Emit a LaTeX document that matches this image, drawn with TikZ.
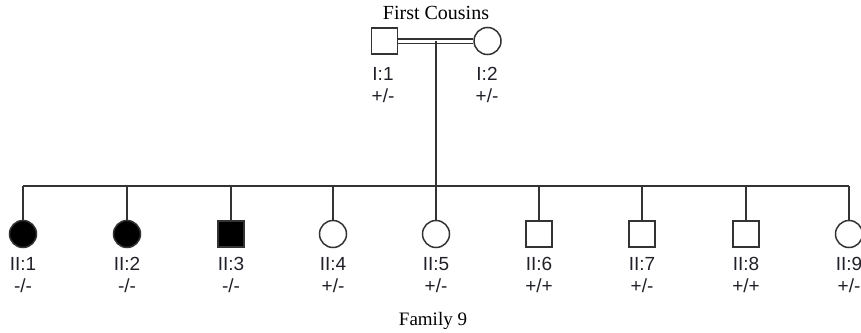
\documentclass[tikz,border=0pt]{standalone}
\usepackage{fontspec}
\setmainfont{Liberation Serif}
\newfontfamily\pedfont{Liberation Sans}
\definecolor{linegray}{HTML}{333333}
\definecolor{idtext}{HTML}{202028}
\begin{document}
\begin{tikzpicture}[x=1pt,y=-1pt]
\tikzset{
  every node/.append style={inner sep=0pt},
  male/.style={rectangle, draw=linegray, line width=1.5pt, minimum size=26pt},
  female/.style={circle, draw=linegray, line width=1.5pt, minimum size=27pt},
  affected/.style={fill=black},
  normal/.style={fill=white},
  idlabel/.style={font=\pedfont\fontsize{19}{21}\selectfont, text=idtext},
  link/.style={draw=linegray, line width=2pt}
}
\useasboundingbox (0,0) rectangle (861,332);
% parents
\node (title) at (436,13) {\fontsize{20}{24}\selectfont First Cousins};
\node [male] (i1) at (384.5,41) {};
\node [female] (i2) at (487.5,41) {};
\node [idlabel] (i1id) at (383,74) {I:1};
\node [idlabel] (i1gt) at (383,96) {+/-};
\node [idlabel] (i2id) at (487,74) {I:2};
\node [idlabel] (i2gt) at (487,96) {+/-};
\draw [link, double=white, double distance=3pt, line width=1.2pt] (i1.east) -- (i2.west);
\coordinate (mate) at (436,41);
\coordinate (sibL) at (23,186);
\coordinate (sibR) at (849,186);
\draw [link] (mate) -- (mate |- sibL);
\draw [link] (sibL) -- (sibR);
% children
\foreach \i/\cx/\sym/\st/\gt in {1/23/female/affected/{-/-}, 2/127/female/affected/{-/-},
  3/231/male/affected/{-/-}, 4/333/female/normal/{+/-}, 5/436/female/normal/{+/-},
  6/539/male/normal/{+/+}, 7/642/male/normal/{+/-}, 8/746/male/normal/{+/+}, 9/849/female/normal/{+/-}}{
  \node [\sym, \st] (ii\i) at (\cx,234) {};
  \node [idlabel] (ii\i id) at (\cx,264) {II:\i};
  \node [idlabel] (ii\i gt) at (\cx,286) {\gt};
  \draw [link] (ii\i.north) -- (ii\i.north |- sibL);
}
\node (family) at (433,321) {\fontsize{19}{22}\selectfont Family 9};
\end{tikzpicture}
\end{document}
